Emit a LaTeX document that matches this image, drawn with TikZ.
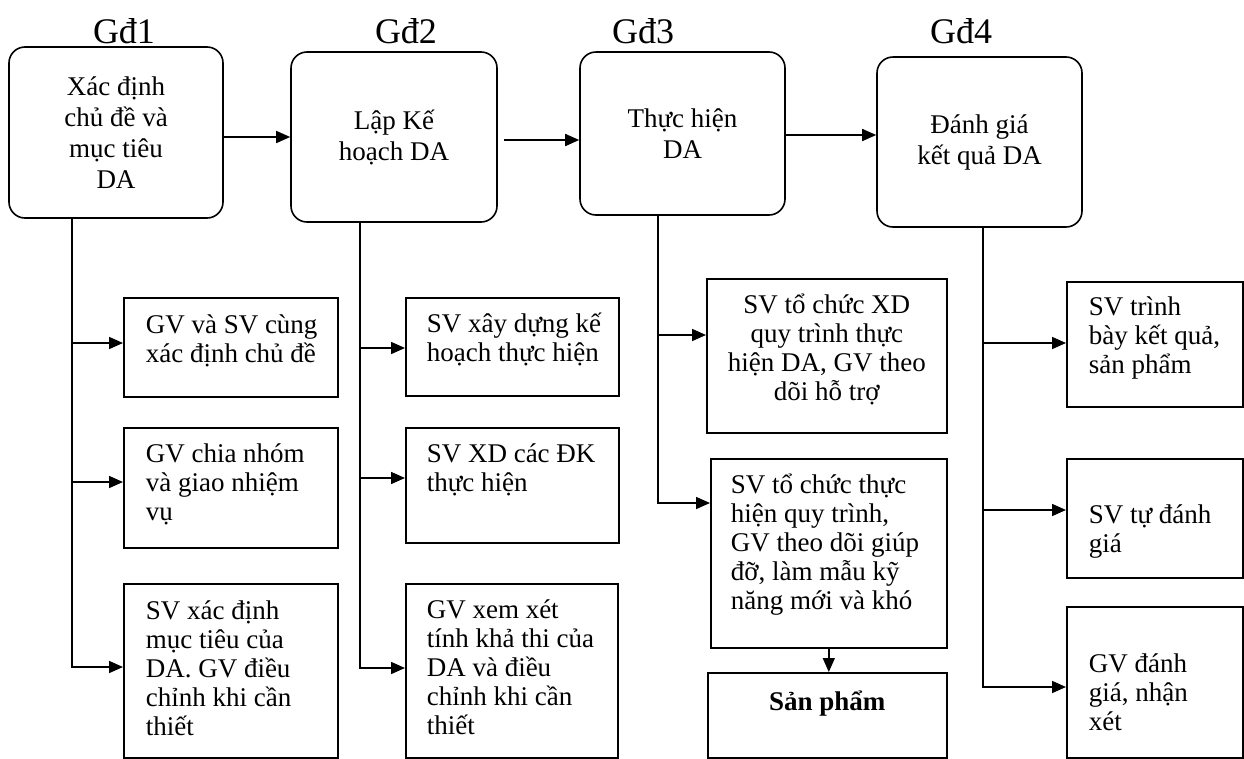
\documentclass[tikz,border=0pt]{standalone}
\usepackage{fontspec}
\setmainfont{Liberation Serif}
\usetikzlibrary{arrows.meta}
\newcommand\lbx[3]{\hspace*{#1}\parbox[t]{#2}{\raggedright #3}}
\newcommand\cbx[2]{\parbox[t]{#1}{\centering #2}}
\begin{document}
\begin{tikzpicture}[x=1pt,y=-1pt,
  every node/.style={font=\fontsize{27}{28.8}\selectfont},
  arr/.style={line width=1.6pt,-{Triangle[length=14pt,width=12pt]}},
  phase/.style={draw,line width=1.6pt,rounded corners=16pt,align=center,
    font=\fontsize{27}{31}\selectfont,inner sep=0pt},
  sub/.style={draw,line width=1.6pt,anchor=north west,inner sep=0pt},
  head/.style={font=\fontsize{36}{40}\selectfont,anchor=base,inner sep=0pt},
]
\useasboundingbox (0,0) rectangle (1244,758);

% stage headers
\node[head] (h1) at (124,43) {Gđ1};
\node[head] (h2) at (406,43) {Gđ2};
\node[head] (h3) at (643,43) {Gđ3};
\node[head] (h4) at (961,43) {Gđ4};

% stage boxes
\node[phase,minimum width=214pt,minimum height=171pt] (g1) at (116,132.5)
  {Xác định\\chủ đề và\\mục tiêu\\DA};
\node[phase,minimum width=206pt,minimum height=170pt] (g2) at (394,137)
  {Lập Kế\\hoạch DA};
\node[phase,minimum width=205pt,minimum height=163pt] (g3) at (682.5,133.5)
  {Thực hiện\\DA};
\node[phase,minimum width=205pt,minimum height=170pt] (g4) at (979.5,142)
  {Đánh giá\\kết quả DA};

% column 1
\node[sub,text height=36pt,text depth=63pt] (b11) at (123,297)
  {\lbx{22pt}{192pt}{GV và SV cùng\\xác định chủ đề}};
\node[sub,text height=35pt,text depth=85pt] (b12) at (123,427)
  {\lbx{22pt}{192pt}{GV chia nhóm\\và giao nhiệm\\vụ}};
\node[sub,text height=36pt,text depth=138pt] (b13) at (123,583)
  {\lbx{22pt}{192pt}{SV xác định\\mục tiêu của\\DA. GV điều\\chỉnh khi cần\\thiết}};

% column 2
\node[sub,text height=35pt,text depth=63pt] (b21) at (405,297)
  {\lbx{21pt}{192pt}{SV xây dựng kế\\hoạch thực hiện}};
\node[sub,text height=35pt,text depth=80pt] (b22) at (405,427)
  {\lbx{21pt}{192pt}{SV XD các ĐK\\thực hiện}};
\node[sub,text height=35pt,text depth=139pt] (b23) at (405,583)
  {\lbx{21pt}{191pt}{GV xem xét\\tính khả thi của\\DA và điều\\chỉnh khi cần\\thiết}};

% column 3
\node[sub,text height=35pt,text depth=119pt] (b31) at (706,278)
  {\cbx{240pt}{SV tổ chức XD\\quy trình thực\\hiện DA, GV theo\\dõi hỗ trợ}};
\node[sub,text height=35pt,text depth=154pt] (b32) at (710,458)
  {\lbx{20pt}{216pt}{SV tổ chức thực\\hiện quy trình,\\GV theo dõi giúp\\đỡ, làm mẫu kỹ\\năng mới và khó}};
\node[sub,text height=38pt,text depth=47pt] (sp) at (707,672)
  {\cbx{239pt}{\textbf{Sản phẩm}}};

% column 4
\node[sub,text height=34pt,text depth=91pt] (b41) at (1066,281)
  {\lbx{22pt}{154pt}{SV trình\\bày kết quả,\\sản phẩm}};
\node[sub,text height=65pt,text depth=54pt] (b42) at (1066,458)
  {\lbx{22pt}{154pt}{SV tự đánh\\giá}};
\node[sub,text height=66pt,text depth=85pt] (b43) at (1066,606)
  {\lbx{22pt}{154pt}{GV đánh\\giá, nhận\\xét}};

% stage-to-stage arrows
\draw[arr] (g1.east |- 0,137) -- (g2.west |- 0,137);
\draw[arr,shorten <=6pt] (g2.east |- 0,140) -- (g3.west |- 0,140);
\draw[arr] (g3.east |- 0,135) -- (g4.west |- 0,135);

% column 1 connectors
\draw[arr] (g1.south -| 72,0) |- (b13.west |- 0,667);
\draw[arr] (72,343) -- (b11.west |- 0,343);
\draw[arr] (72,482) -- (b12.west |- 0,482);

% column 2 connectors
\draw[arr] (g2.south -| 360,0) |- (b23.west |- 0,668);
\draw[arr] (360,348) -- (b21.west |- 0,348);
\draw[arr] (360,478) -- (b22.west |- 0,478);

% column 3 connectors
\draw[arr] (g3.south -| 658,0) |- (b32.west |- 0,503);
\draw[arr] (658,335) -- (b31.west |- 0,335);
\draw[arr] (b32.south) -- (b32.south |- sp.north);

% column 4 connectors
\draw[arr] (g4.south -| 983,0) |- (b43.west |- 0,687);
\draw[arr] (983,343) -- (b41.west |- 0,343);
\draw[arr] (983,510) -- (b42.west |- 0,510);
\end{tikzpicture}
\end{document}
